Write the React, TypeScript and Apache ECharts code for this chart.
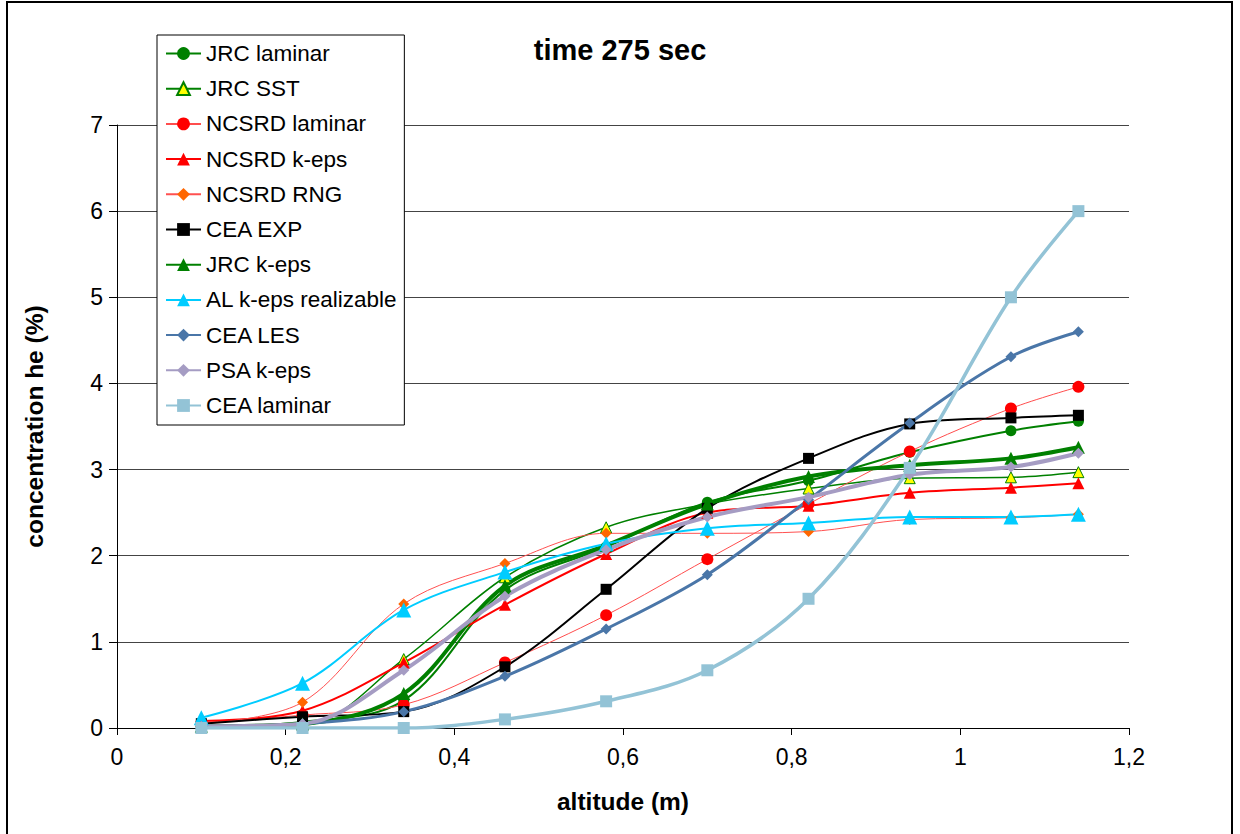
import React, { useEffect, useRef } from "react";
import * as echarts from "echarts";

const altitudes = [0.1, 0.22, 0.34, 0.46, 0.58, 0.7, 0.82, 0.94, 1.06, 1.14];

const jrcLaminar = [0.02, 0.07, 0.32, 1.6, 2.1, 2.62, 2.87, 3.2, 3.45, 3.56];
const jrcSST = [0.02, 0.03, 0.8, 1.75, 2.33, 2.6, 2.78, 2.9, 2.91, 2.97];
const ncsrdLaminar = [0.06, 0.15, 0.27, 0.76, 1.31, 1.96, 2.6, 3.21, 3.71, 3.96];
const ncsrdKeps = [0.08, 0.2, 0.76, 1.43, 2.02, 2.5, 2.58, 2.73, 2.79, 2.84];
const ncsrdRNG = [0.05, 0.3, 1.44, 1.91, 2.26, 2.26, 2.28, 2.42, 2.44, 2.48];
const ceaExp = [0.05, 0.13, 0.19, 0.71, 1.61, 2.55, 3.13, 3.53, 3.6, 3.63];
const jrcKeps = [0.02, 0.05, 0.4, 1.65, 2.12, 2.6, 2.92, 3.05, 3.13, 3.26];
const alKeps = [0.12, 0.52, 1.37, 1.81, 2.14, 2.32, 2.38, 2.45, 2.45, 2.48];
const ceaLES = [0.02, 0.05, 0.19, 0.6, 1.15, 1.78, 2.65, 3.54, 4.31, 4.6];
const psaKeps = [0.02, 0.05, 0.67, 1.53, 2.07, 2.45, 2.68, 2.94, 3.03, 3.19];
const ceaLaminar = [0, 0, 0, 0.1, 0.31, 0.67, 1.5, 3.02, 5.0, 6.0];

const yTicks = [0, 1, 2, 3, 4, 5, 6, 7];
const xTicks = [0, 0.2, 0.4, 0.6, 0.8, 1, 1.2];

const FONT = "'Liberation Sans', Arial, sans-serif";

type SeriesDef = {
  name: string;
  values: number[];
  lineColor: string;
  lineWidth: number;
  symbol: string;
  symbolSize: number;
  fill: string;
  border?: string;
};

const seriesDefs: SeriesDef[] = [
  { name: "JRC laminar", values: jrcLaminar, lineColor: "#008000", lineWidth: 2, symbol: "circle", symbolSize: 11, fill: "#008000" },
  { name: "JRC SST", values: jrcSST, lineColor: "#008000", lineWidth: 1.5, symbol: "triangle", symbolSize: 11, fill: "#ffff00", border: "#008000" },
  { name: "NCSRD laminar", values: ncsrdLaminar, lineColor: "#ff4d4d", lineWidth: 1, symbol: "circle", symbolSize: 12, fill: "#ff0000" },
  { name: "NCSRD k-eps", values: ncsrdKeps, lineColor: "#ff0000", lineWidth: 2, symbol: "triangle", symbolSize: 12, fill: "#ff0000" },
  { name: "NCSRD RNG", values: ncsrdRNG, lineColor: "#ff5050", lineWidth: 1, symbol: "diamond", symbolSize: 11, fill: "#ff6600" },
  { name: "CEA EXP", values: ceaExp, lineColor: "#000000", lineWidth: 2, symbol: "rect", symbolSize: 11, fill: "#000000" },
  { name: "JRC k-eps", values: jrcKeps, lineColor: "#008000", lineWidth: 4, symbol: "triangle", symbolSize: 13, fill: "#008000" },
  { name: "AL k-eps realizable", values: alKeps, lineColor: "#00ccff", lineWidth: 2, symbol: "triangle", symbolSize: 15, fill: "#00ccff" },
  { name: "CEA LES", values: ceaLES, lineColor: "#4a76a8", lineWidth: 3, symbol: "diamond", symbolSize: 11, fill: "#4a76a8" },
  { name: "PSA k-eps", values: psaKeps, lineColor: "#a59cc3", lineWidth: 4, symbol: "diamond", symbolSize: 11, fill: "#a59cc3" },
  { name: "CEA laminar", values: ceaLaminar, lineColor: "#93c3d6", lineWidth: 3.5, symbol: "rect", symbolSize: 12, fill: "#93c3d6" },
];

export default function App() {
  const ref = useRef<HTMLDivElement>(null);

  useEffect(() => {
    document.body.style.margin = "0";
    if (!ref.current) return;
    const chart = echarts.init(ref.current, undefined, { renderer: "svg" });

    const series = seriesDefs.map((d) => ({
      name: d.name,
      type: "line",
      data: altitudes.map((x, i) => [x, d.values[i]]),
      smooth: 0.35,
      symbol: d.symbol,
      symbolSize: d.symbolSize,
      showSymbol: true,
      lineStyle: { color: d.lineColor, width: d.lineWidth },
      itemStyle: {
        color: d.fill,
        borderColor: d.border || d.fill,
        borderWidth: d.border ? 1 : 0,
      },
      emphasis: { disabled: true },
      z: 2,
    }));

    chart.setOption({
      animation: false,
      backgroundColor: "#ffffff",
      title: {
        text: "time 275 sec",
        left: "center",
        top: 30,
        textStyle: { fontFamily: FONT, fontSize: 29, fontWeight: "bold", color: "#000" },
      },
      legend: {
        orient: "vertical",
        left: 157,
        top: 35,
        padding: [7, 7, 8, 8],
        itemWidth: 35,
        itemHeight: 16,
        itemGap: 12.2,
        itemTextGap: 3,
        borderColor: "#000",
        borderWidth: 1,
        backgroundColor: "#fff",
        data: seriesDefs.map((d) => d.name),
        textStyle: { fontFamily: FONT, fontSize: 22.5, color: "#000" },
      },
      grid: { left: 117, top: 125, right: 111, bottom: 106, containLabel: false },
      xAxis: {
        type: "value",
        min: xTicks[0],
        max: xTicks[xTicks.length - 1],
        interval: 0.2,
        name: "altitude (m)",
        nameLocation: "middle",
        nameGap: 61,
        nameTextStyle: { fontFamily: FONT, fontSize: 24.5, fontWeight: "bold", color: "#000" },
        axisLine: { show: true, onZero: false, lineStyle: { color: "#000", width: 1 } },
        axisTick: { show: true, inside: false, length: 7, lineStyle: { color: "#000" } },
        axisLabel: {
          fontFamily: FONT,
          fontSize: 23,
          color: "#000",
          margin: 17,
          formatter: (v: number) => String(Math.round(v * 10) / 10).replace(".", ","),
        },
        splitLine: { show: false },
      },
      yAxis: {
        type: "value",
        min: yTicks[0],
        max: yTicks[yTicks.length - 1],
        interval: 1,
        name: "concentration he (%)",
        nameLocation: "middle",
        nameGap: 70,
        nameTextStyle: { fontFamily: FONT, fontSize: 24.5, fontWeight: "bold", color: "#000" },
        axisLine: { show: true, lineStyle: { color: "#000", width: 1 } },
        axisTick: { show: true, inside: false, length: 8, lineStyle: { color: "#000" } },
        axisLabel: { fontFamily: FONT, fontSize: 23, color: "#000", margin: 14 },
        splitLine: { show: true, lineStyle: { color: "#444", width: 1.2 } },
      },
      graphic: [
        {
          type: "rect",
          silent: true,
          shape: { x: 7, y: 2, width: 1225, height: 850 },
          style: { fill: "none", stroke: "#000", lineWidth: 2 },
          z: 100,
        },
      ],
      series,
    });

    return () => chart.dispose();
  }, []);

  return <div ref={ref} style={{ width: 1240, height: 834 }} />;
}
